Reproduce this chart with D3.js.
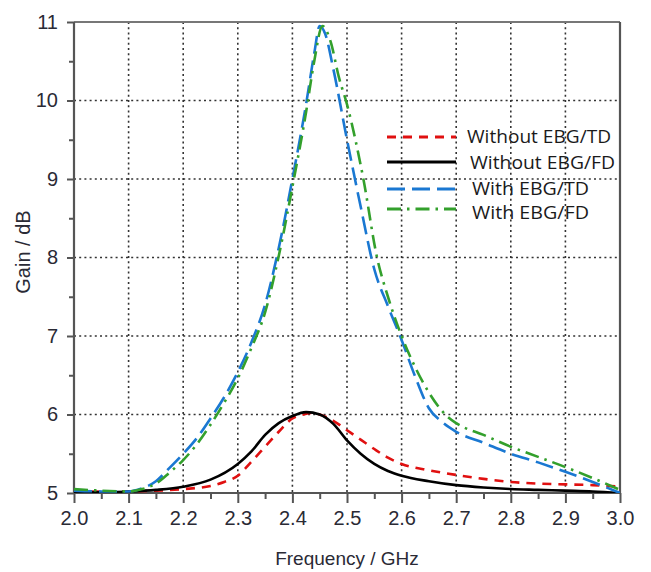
<!DOCTYPE html>
<html><head><meta charset="utf-8">
<script src="https://cdn.jsdelivr.net/npm/d3@7"></script>
<style>body{margin:0;background:#fff}svg{display:block}</style>
</head><body>
<script>
const freq = [2.00,2.05,2.10,2.125,2.15,2.175,2.20,2.225,2.25,2.275,2.30,2.325,2.35,2.375,2.40,2.425,2.44,2.45,2.46,2.475,2.50,2.525,2.55,2.575,2.60,2.625,2.65,2.675,2.70,2.75,2.80,2.85,2.90,2.95,3.00];
const withEbgTD = [5.03,5.02,5.02,5.06,5.15,5.32,5.50,5.70,5.95,6.22,6.54,6.92,7.40,8.12,9.00,9.95,10.60,10.95,10.85,10.40,9.50,8.65,7.85,7.38,6.95,6.48,6.08,5.90,5.78,5.64,5.50,5.39,5.27,5.14,5.00];
const freqG = [2.00,2.05,2.10,2.125,2.15,2.175,2.20,2.225,2.25,2.275,2.30,2.325,2.35,2.375,2.40,2.425,2.44,2.455,2.47,2.485,2.50,2.53,2.555,2.575,2.60,2.625,2.65,2.68,2.70,2.75,2.80,2.85,2.90,2.95,3.00];
const withEbgFD = [5.05,5.03,5.02,5.05,5.12,5.26,5.42,5.62,5.87,6.15,6.46,6.85,7.30,8.02,8.90,9.85,10.50,10.95,10.75,10.30,9.95,9.00,8.00,7.50,7.00,6.60,6.28,6.00,5.89,5.74,5.59,5.46,5.33,5.19,5.04];
const freqR = [2.00,2.05,2.10,2.15,2.20,2.25,2.275,2.30,2.325,2.35,2.375,2.40,2.42,2.435,2.45,2.475,2.50,2.525,2.55,2.575,2.60,2.65,2.70,2.75,2.80,2.85,2.90,2.95,3.00];
const withoutEbgTD = [5.02,5.02,5.02,5.03,5.05,5.09,5.14,5.22,5.40,5.59,5.78,5.95,6.00,6.02,6.00,5.92,5.80,5.68,5.56,5.45,5.37,5.29,5.23,5.18,5.14,5.12,5.11,5.10,5.08];
const freqB = [2.00,2.05,2.10,2.15,2.20,2.25,2.30,2.325,2.35,2.375,2.40,2.425,2.45,2.475,2.50,2.525,2.55,2.575,2.60,2.65,2.70,2.75,2.80,2.85,2.90,2.95,3.00];
const withoutEbgFD = [5.00,5.01,5.02,5.04,5.08,5.17,5.37,5.53,5.74,5.89,5.98,6.03,6.00,5.88,5.67,5.50,5.37,5.28,5.22,5.15,5.10,5.07,5.05,5.04,5.03,5.02,5.00];
const xTicks = [2.0,2.1,2.2,2.3,2.4,2.5,2.6,2.7,2.8,2.9,3.0];
const yTicks = [5,6,7,8,9,10,11];
const legendLabels = ["Without EBG/TD","Without EBG/FD","With EBG/TD","With EBG/FD"];

const W=651,H=572;
const L=74,R=620,T=22,B=493;
const svg=d3.select("body").append("svg").attr("width",W).attr("height",H);
const x=d3.scaleLinear().domain([2,3]).range([L,R]);
const y=d3.scaleLinear().domain([5,11]).range([B,T]);

// grid
const grid=svg.append("g").attr("stroke","#333").attr("stroke-width",1.6).attr("stroke-dasharray","2,3.2");
xTicks.slice(1,-1).forEach(v=>grid.append("line").attr("x1",x(v)).attr("x2",x(v)).attr("y1",T).attr("y2",B));
yTicks.slice(1,-1).forEach(v=>grid.append("line").attr("x1",L).attr("x2",R).attr("y1",y(v)).attr("y2",y(v)));

// frame
svg.append("line").attr("x1",L).attr("x2",R).attr("y1",T).attr("y2",T).attr("stroke","#777").attr("stroke-width",2.2);
svg.append("line").attr("x1",R).attr("x2",R).attr("y1",T).attr("y2",B).attr("stroke","#555").attr("stroke-width",2.2);

// axes
const fontTick="'Liberation Sans', Arial, sans-serif";
const xMinor=d3.range(2.05,3,0.1);
const yMinor=d3.range(5.5,11,1);
const xAxis=svg.append("g").attr("transform",`translate(0,${B})`)
  .call(d3.axisBottom(x).tickValues(xTicks).tickFormat(d3.format(".1f")).tickSize(10).tickPadding(8));
svg.append("g").attr("transform",`translate(0,${B})`).call(d3.axisBottom(x).tickValues(xMinor).tickFormat("").tickSize(6)).call(g=>g.select(".domain").remove());
const yAxis=svg.append("g").attr("transform",`translate(${L},0)`)
  .call(d3.axisLeft(y).tickValues(yTicks).tickFormat(d3.format("d")).tickSize(7).tickPadding(9));
svg.append("g").attr("transform",`translate(${L},0)`).call(d3.axisLeft(y).tickValues(yMinor).tickFormat("").tickSize(5)).call(g=>g.select(".domain").remove());
svg.selectAll(".domain").attr("stroke","#555").attr("stroke-width",2.2);
svg.selectAll(".tick line").attr("stroke","#555").attr("stroke-width",2);
svg.selectAll(".tick text").attr("font-family",fontTick).attr("font-size",20).attr("fill","#2a2a35");
xAxis.selectAll(".domain").attr("d",`M${L},0H${R}`);
yAxis.selectAll(".domain").attr("d",`M0,${B}V${T}`);

// lines
const clip=svg.append("clipPath").attr("id","c").append("rect").attr("x",L).attr("y",T-3).attr("width",R-L).attr("height",B-T+3);
const g=svg.append("g").attr("clip-path","url(#c)");
const line=(xs)=>d3.line().x((d,i)=>x(xs[i])).y(d=>y(d)).curve(d3.curveMonotoneX);
const series=[
 {xs:freqR,ys:withoutEbgTD,color:"#e01010",dash:"9,7",w:2.6},
 {xs:freqB,ys:withoutEbgFD,color:"#000",dash:null,w:2.6},
 {xs:freq,ys:withEbgTD,color:"#1a78d2",dash:"18,7",w:2.6},
 {xs:freqG,ys:withEbgFD,color:"#33a02c",dash:"14,6,2.5,6",w:2.6}
];
series.forEach(s=>{
  g.append("path").attr("d",line(s.xs)(s.ys)).attr("fill","none").attr("stroke",s.color)
   .attr("stroke-width",s.w).attr("stroke-dasharray",s.dash);
});

// legend
const legY=[137,162,189,209];
const legTextX=[467,470,472,472];
const legTextY=[143,169,195,219];
const legTextW=[144,145,117,117];
series.forEach((s,i)=>{
  svg.append("line").attr("x1",387).attr("x2",456).attr("y1",legY[i]).attr("y2",legY[i])
   .attr("stroke",s.color).attr("stroke-width",3).attr("stroke-dasharray",s.dash);
  svg.append("text").attr("x",legTextX[i]).attr("y",legTextY[i]).text(legendLabels[i])
   .attr("font-family","'Liberation Sans Narrow','Open Sans',sans-serif").attr("font-size",18).attr("fill","#1a1a1a")
   .attr("textLength",legTextW[i]).attr("lengthAdjust","spacingAndGlyphs");
});

// axis titles
svg.append("text").attr("x",347).attr("y",565).attr("text-anchor","middle").text("Frequency / GHz")
  .attr("font-family",fontTick).attr("font-size",19).attr("fill","#2a2a35");
svg.append("text").attr("transform","translate(30,252) rotate(-90)").attr("text-anchor","middle").text("Gain / dB")
  .attr("font-family",fontTick).attr("font-size",20).attr("fill","#2a2a35");
</script>
</body></html>
